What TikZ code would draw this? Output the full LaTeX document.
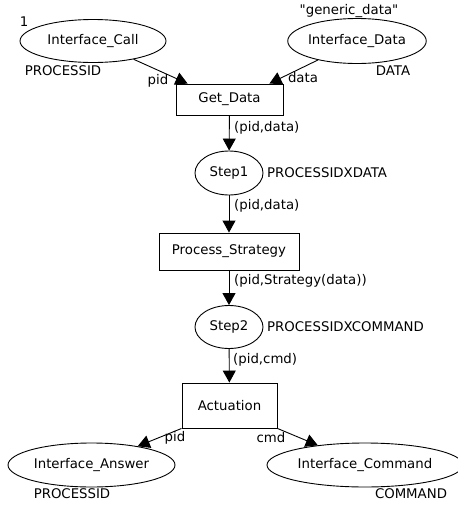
\documentclass[tikz,border=0pt]{standalone}
\usepackage{fontspec}
\setmainfont{DejaVu Sans}[Ligatures=TeXOff]
\usetikzlibrary{shapes.geometric,arrows.meta}
\begin{document}
\begin{tikzpicture}[x=1pt,y=-1pt,
  every node/.style={font=\fontsize{13.3}{15}\selectfont, inner sep=0pt},
  place/.style={draw, ellipse, line width=0.9pt},
  trans/.style={draw, rectangle, line width=0.9pt},
  arc/.style={draw, line width=0.9pt, -{Triangle[length=12pt,width=13pt]}},
  lbl/.style={}]
\useasboundingbox (0,0) rectangle (458,507);
% places
\node[place, minimum width=146pt, minimum height=43pt] (call) at (93,41) {Interface\_Call};
\node[place, minimum width=132pt, minimum height=45pt] (data) at (357,41) {Interface\_Data};
\node[place, minimum width=68pt, minimum height=44pt] (s1) at (229,173) {Step1};
\node[place, minimum width=68pt, minimum height=43pt] (s2) at (229,327) {Step2};
\node[place, minimum width=167pt, minimum height=44pt] (ans) at (91.5,465) {Interface\_Answer};
\node[place, minimum width=196pt, minimum height=44pt] (cmd) at (365,465) {Interface\_Command};
% transitions
\node[trans, minimum width=107pt, minimum height=31pt] (get) at (229.5,99.5) {Get\_Data};
\node[trans, minimum width=140pt, minimum height=37pt] (ps) at (229,251.5) {Process\_Strategy};
\node[trans, minimum width=95pt, minimum height=45pt] (act) at (229.5,405.5) {Actuation};
% arcs
\draw[arc] (call) -- ([xshift=12pt]get.north west);
\draw[arc] (data) -- ([xshift=-14pt]get.north east);
\draw[arc] (get) -- (s1);
\draw[arc] (s1) -- (ps);
\draw[arc] (ps) -- (s2);
\draw[arc] (s2) -- (act);
\draw[arc] (act.south west) -- (ans);
\draw[arc] (act.south east) -- (cmd);
% labels
\node[lbl] (l1) at (24,22) {1};
\node[lbl] (lpid1) at (63,71) {PROCESSID};
\node[lbl] (lgen) at (349,11) {"generic\_data"};
\node[lbl] (ldata) at (393,71) {DATA};
\node[lbl] (apid) at (158,81) {pid};
\node[lbl] (adata) at (303,78) {data};
\node[lbl, anchor=west] (a1) at (234,128) {(pid,data)};
\node[lbl, anchor=west] (t1) at (267,173) {PROCESSIDXDATA};
\node[lbl, anchor=west] (a2) at (234,206) {(pid,data)};
\node[lbl, anchor=west] (a3) at (234,281) {(pid,Strategy(data))};
\node[lbl, anchor=west] (t2) at (267,327) {PROCESSIDXCOMMAND};
\node[lbl, anchor=west] (a4) at (233,360) {(pid,cmd)};
\node[lbl] (bpid) at (175,438) {pid};
\node[lbl] (bcmd) at (271,438) {cmd};
\node[lbl] (lpid2) at (72,494) {PROCESSID};
\node[lbl] (lcom) at (411,494) {COMMAND};
\end{tikzpicture}
\end{document}
